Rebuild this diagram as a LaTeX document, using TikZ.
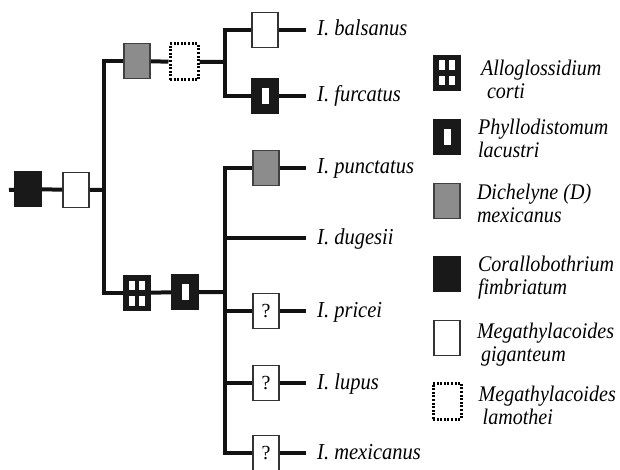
\documentclass[tikz,border=0pt]{standalone}
\usepackage{fontspec}
\setmainfont{Liberation Serif}
\newfontfamily\taxfont{Liberation Serif}[FakeStretch=0.9]
\usetikzlibrary{positioning}

\begin{document}
\begin{tikzpicture}[
     x=1pt, y=-1pt,
     % define styles
     branch/.style={
         line width=4pt,
         draw=black!93,
         line join=miter
     },
     box/.style={
         draw=black!80,
         line width=1.6pt,
         minimum width=26pt,
         minimum height=35pt,
         inner sep=0pt
     },
     plain/.style={ box, fill=white },
     grey/.style={ box, fill=black!45, draw=black!75 },
     coral/.style={ box, fill=black!90, draw=black!90 },
     slotbox/.style={
         coral,
         path picture={
             \fill[white] ([shift={(-3.5pt,-8pt)}]path picture bounding box.center)
                 rectangle ++(7pt,16pt);
         }
     },
     gridbox/.style={
         coral,
         path picture={
             \foreach \sx in {-1,1}
               \foreach \sy in {-1,1}
                 \fill[white] ([shift={(\sx*1.7pt,\sy*3pt)}]path picture bounding box.center)
                     rectangle ([shift={(\sx*8.2pt,\sy*12.5pt)}]path picture bounding box.center);
         }
     },
     dotbox/.style={
         box, fill=white, draw=black,
         line width=3pt,
         dash pattern=on 2pt off 1.6pt,
         minimum width=28pt,
         minimum height=36pt
     },
     qbox/.style={ plain, font=\fontsize{20}{20}\selectfont },
     leaf/.style={
         inner sep=0pt,
         font=\taxfont\fontsize{22.8}{22}\selectfont\itshape
     },
     legtext/.style={
         inner sep=0pt,
         align=left,
         font=\taxfont\fontsize{22.3}{23.5}\selectfont\itshape
     }
]
\useasboundingbox (0,0) rectangle (620,470);

% root and first split
\coordinate (r0) at (9,190);
\node[coral] (cb) at (28,189) {};
\node[plain] (mg) at (76,190) {};
\coordinate (n1) at (104,190);

% upper clade
\node[grey] (dm1) at (137,61) {};
\node[dotbox] (ml1) at (184,62) {};
\coordinate (n2) at (225,62);
\node[plain] (mg2) at (265,30) {};
\node[slotbox] (pl1) at (265,96) {};
\coordinate (e1) at (306,30);
\coordinate (e2) at (306,96);

% lower clade
\node[gridbox] (ac1) at (137,293) {};
\node[slotbox] (pl2) at (185,292) {};
\coordinate (n4) at (225,292);
\node[grey] (dm2) at (266,168) {};
\node[qbox] (q1) at (266,311) {?};
\node[qbox] (q2) at (266,383) {?};
\node[qbox] (q3) at (266,453) {?};
\coordinate (e3) at (306,168);
\coordinate (e4) at (306,238);
\coordinate (e5) at (306,311);
\coordinate (e6) at (306,383);
\coordinate (e7) at (306,453);

% branches
\draw[branch] (r0) -- (cb) -- (mg) -- (n1);
\draw[branch] (dm1) -| (n1) |- (ac1);
\draw[branch] (dm1) -- (ml1) -- (n2);
\draw[branch] (mg2) -| (n2) |- (pl1);
\draw[branch] (mg2) -- (e1);
\draw[branch] (pl1) -- (e2);
\draw[branch] (ac1) -- (pl2) -- (n4);
\draw[branch] (dm2) -| (n4) |- (q3);
\draw[branch] (dm2) -- (e3);
\draw[branch] (n4 |- e4) -- (e4);
\draw[branch] (n4 |- q1) -- (q1) -- (e5);
\draw[branch] (n4 |- q2) -- (q2) -- (e6);
\draw[branch] (q3) -- (e7);

% species
\node[leaf, right=11pt of e1, anchor=base west, yshift=-6pt] (bal) {I. balsanus};
\node[leaf, right=11pt of e2, anchor=base west, yshift=-6pt] (fur) {I. furcatus};
\node[leaf, right=11pt of e3, anchor=base west, yshift=-6pt] (pun) {I. punctatus};
\node[leaf, right=11pt of e4, anchor=base west, yshift=-6pt] (dug) {I. dugesii};
\node[leaf, right=11pt of e5, anchor=base west, yshift=-6pt] (pri) {I. pricei};
\node[leaf, right=11pt of e6, anchor=base west, yshift=-6pt] (lup) {I. lupus};
\node[leaf, right=11pt of e7, anchor=base west, yshift=-6pt] (mex) {I. mexicanus};

% legend
\node[gridbox] (lac) at (447,73) {};
\node[slotbox] (lpl) at (447,137) {};
\node[grey] (ldm) at (447,201) {};
\node[coral] (lcb) at (447,274) {};
\node[plain] (lmg) at (447,338) {};
\node[dotbox] (lml) at (447,401) {};

\node[legtext, below right=5pt and 20pt of lac.north east] (tac) {Alloglossidium\\\hspace*{6pt}corti};
\node[legtext, below right=0pt and 17pt of lpl.north east] (tpl) {Phyllodistomum\\lacustri};
\node[legtext, below right=1pt and 16pt of ldm.north east] (tdm) {Dichelyne (D)\\mexicanus};
\node[legtext, below right=0pt and 17pt of lcb.north east] (tcb) {Corallobothrium\\fimbriatum};
\node[legtext, below right=3pt and 16pt of lmg.north east] (tmg) {Megathylacoides\\\hspace*{4pt}giganteum};
\node[legtext, below right=4pt and 16pt of lml.north east] (tml) {Megathylacoides\\\hspace*{4pt}lamothei};
\end{tikzpicture}
\end{document}
